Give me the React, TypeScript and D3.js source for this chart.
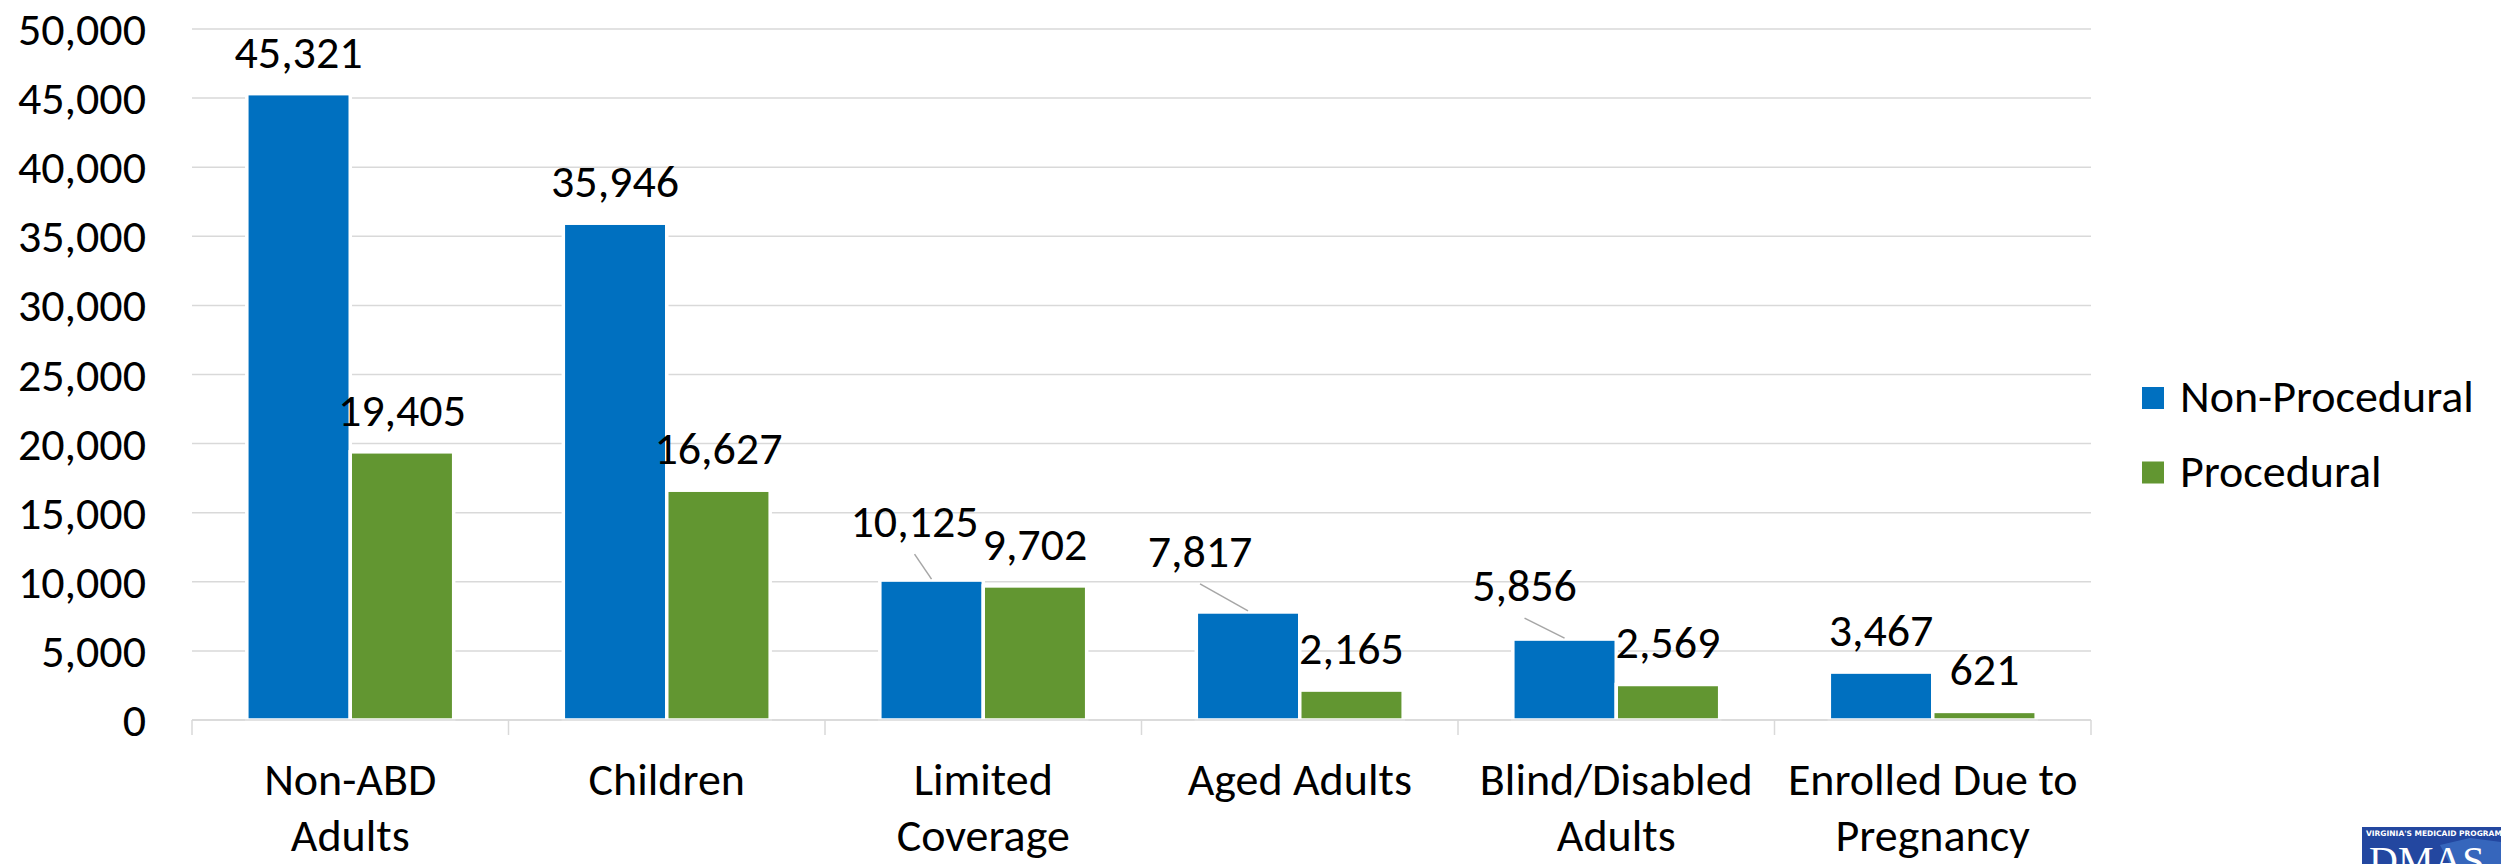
import React from 'react';
import * as d3 from 'd3';

const categories = [
  'Non-ABD Adults',
  'Children',
  'Limited Coverage',
  'Aged Adults',
  'Blind/Disabled Adults',
  'Enrolled Due to Pregnancy',
];
const categoryLines = [
  ['Non-ABD', 'Adults'],
  ['Children'],
  ['Limited', 'Coverage'],
  ['Aged Adults'],
  ['Blind/Disabled', 'Adults'],
  ['Enrolled Due to', 'Pregnancy'],
];
const seriesNames = ['Non-Procedural', 'Procedural'];
const nonProcedural = [45321, 35946, 10125, 7817, 5856, 3467];
const procedural = [19405, 16627, 9702, 2165, 2569, 621];
const yTicks = [0, 5000, 10000, 15000, 20000, 25000, 30000, 35000, 40000, 45000, 50000];

// labels that were dragged off their bars in the original (with leader lines)
const movedLabels: Record<string, [number, number]> = {
  'Limited Coverage': [-17, -17],
  'Aged Adults': [-48, -19],
  'Blind/Disabled Adults': [-40, -12],
};

const colors = ['#0070C0', '#629631'];
const W = 2501;
const H = 864;
const FONT = 'Carlito, Calibri, Lato, sans-serif';
const FS = 46;

const App: React.FC = () => {
  const x0 = d3.scaleBand().domain(categories).range([192, 2091]).paddingInner(0).paddingOuter(0);
  const x1 = d3.scaleBand().domain(seriesNames).range([0, x0.bandwidth()]).paddingInner(0).paddingOuter(0.53);
  const y = d3.scaleLinear().domain([0, 50000]).range([720, 29]);
  const fmt = d3.format(',');
  const values = [nonProcedural, procedural];

  return (
    <svg
      width={W}
      height={H}
      viewBox={`0 0 ${W} ${H}`}
      style={{ position: 'absolute', left: 0, top: 0, display: 'block', background: '#fff' }}
      fontFamily={FONT}
    >
      {/* gridlines */}
      {yTicks.map((t) => (
        <line key={t} x1={192} x2={2091} y1={y(t)} y2={y(t)} stroke="#d9d9d9" strokeWidth={1.5} />
      ))}
      {/* y tick labels */}
      {yTicks.map((t) => (
        <text key={'l' + t} x={146} y={y(t) + 16} textAnchor="end" fontSize={FS} fill="#000">
          {fmt(t)}
        </text>
      ))}
      {/* category ticks */}
      {d3.range(categories.length + 1).map((i) => {
        const xx = 192 + i * x0.step();
        return <line key={'t' + i} x1={xx} x2={xx} y1={720} y2={735} stroke="#d9d9d9" strokeWidth={1.5} />;
      })}

      {/* bars */}
      {categories.map((c, ci) => (
        <g key={c} transform={`translate(${x0(c)},0)`}>
          {seriesNames.map((s, si) => (
            <rect
              key={s}
              x={x1(s)}
              y={y(values[si][ci])}
              width={x1.bandwidth()}
              height={y(0) - y(values[si][ci])}
              fill={colors[si]}
              stroke="#fff"
              strokeWidth={3.5}
            />
          ))}
        </g>
      ))}

      {/* baseline */}
      <line x1={192} x2={2091} y1={720} y2={720} stroke="#d9d9d9" strokeWidth={1.5} />

      {/* value labels */}
      {categories.map((c, ci) =>
        seriesNames.map((s, si) => {
          const v = values[si][ci];
          const cx = (x0(c) || 0) + (x1(s) || 0) + x1.bandwidth() / 2;
          const top = y(v);
          const off = si === 0 && movedLabels[c] ? movedLabels[c] : [0, 0];
          const lx = cx + off[0];
          const ly = top - 26 + off[1];
          return (
            <g key={c + s}>
              {off[0] !== 0 && (
                <line x1={lx} y1={ly + 17} x2={cx} y2={top - 1} stroke="#a6a6a6" strokeWidth={1.5} />
              )}
              <text x={lx} y={ly} textAnchor="middle" fontSize={FS} fill="#000">
                {fmt(v)}
              </text>
            </g>
          );
        })
      )}

      {/* category labels */}
      {categories.map((c, ci) => (
        <text key={'c' + c} x={(x0(c) || 0) + x0.bandwidth() / 2} textAnchor="middle" fontSize={FS} fill="#000">
          {categoryLines[ci].map((ln, li) => (
            <tspan key={li} x={(x0(c) || 0) + x0.bandwidth() / 2} y={795 + li * 56}>
              {ln}
            </tspan>
          ))}
        </text>
      ))}

      {/* legend */}
      {seriesNames.map((s, si) => (
        <g key={'lg' + s} transform={`translate(2142,${387 + si * 74.5})`}>
          <rect width={22} height={22} fill={colors[si]} />
          <text x={38} y={25} fontSize={FS} fill="#000">
            {s}
          </text>
        </g>
      ))}

      {/* DMAS logo, cut off by the page edge */}
      <g>
        <rect x={2362} y={827} width={139} height={40} fill="#2347a0" />
        <path d="M2440,845 L2470,838 L2501,842 L2501,864 L2450,864 Z" fill="#3f74c8" opacity={0.7} />
        <text x={2366} y={836} fontSize={7.5} fontWeight="bold" fill="#fff" fontFamily="DejaVu Sans, sans-serif">
          VIRGINIA'S MEDICAID PROGRAM
        </text>
        <text x={2369} y={874} fontSize={40} fill="#fff" fontFamily="Liberation Serif, serif">
          DMAS
        </text>
      </g>
    </svg>
  );
};

export default App;
